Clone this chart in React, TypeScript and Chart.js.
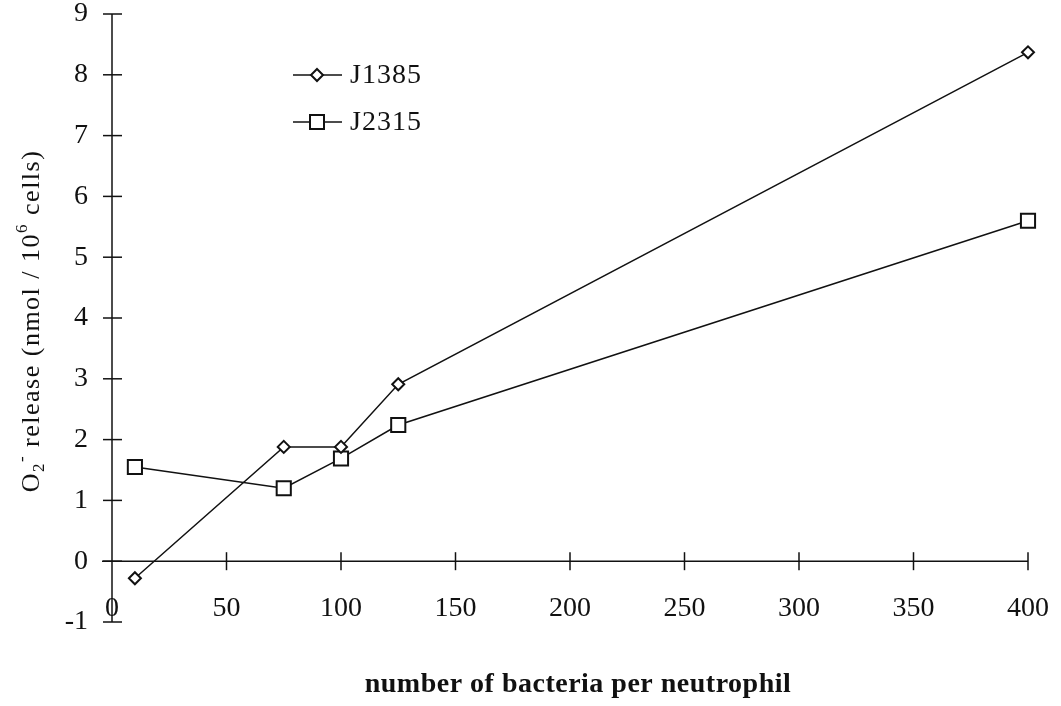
import React, { useEffect, useRef } from "react";
import { Chart, registerables } from "chart.js";

Chart.register(...registerables);

const bacteriaPerNeutrophil = [10, 75, 100, 125, 400];
const j1385 = [-0.28, 1.88, 1.88, 2.91, 8.37];
const j2315 = [1.55, 1.2, 1.69, 2.24, 5.6];
const seriesLabels = ["J1385", "J2315"];
const xTitle = "number of bacteria per neutrophil";

const FONT = "'Liberation Serif', 'Times New Roman', serif";

const axesPlugin = {
  id: "customAxes",
  afterDraw(chart: any) {
    const ctx = chart.ctx;
    const xs = chart.scales.x;
    const ys = chart.scales.y;
    const x0 = xs.getPixelForValue(0);
    const y0 = ys.getPixelForValue(0);
    ctx.save();
    ctx.strokeStyle = "#111";
    ctx.lineWidth = 1.5;
    ctx.beginPath();
    ctx.moveTo(x0, ys.getPixelForValue(9));
    ctx.lineTo(x0, ys.getPixelForValue(-1));
    ctx.stroke();
    for (let v = -1; v <= 9; v++) {
      const py = ys.getPixelForValue(v);
      ctx.beginPath();
      ctx.moveTo(x0 - 9, py);
      ctx.lineTo(x0 + 10, py);
      ctx.stroke();
    }
    ctx.beginPath();
    ctx.moveTo(x0 - 10, y0);
    ctx.lineTo(xs.getPixelForValue(400), y0);
    ctx.stroke();
    for (let v = 50; v <= 400; v += 50) {
      const px = xs.getPixelForValue(v);
      ctx.beginPath();
      ctx.moveTo(px, y0 - 9);
      ctx.lineTo(px, y0 + 9);
      ctx.stroke();
    }
    ctx.restore();

    // y title with sub/superscripts
    ctx.save();
    const big = 26;
    const small = 17;
    const parts: [string, number, number][] = [
      ["O", big, 0],
      ["2", small, 5],
      ["-", small, -12],
      [" release (nmol / 10", big, 0],
      ["6", small, -12],
      [" cells)", big, 0],
    ];
    (ctx as any).letterSpacing = "1.5px";
    let total = 0;
    for (const [t, s] of parts) {
      ctx.font = `${s}px ${FONT}`;
      total += ctx.measureText(t).width;
    }
    ctx.translate(39, 321);
    ctx.rotate(-Math.PI / 2);
    ctx.fillStyle = "#111";
    ctx.textBaseline = "alphabetic";
    ctx.textAlign = "left";
    let cx = -total / 2;
    for (const [t, s, dy] of parts) {
      ctx.font = `${s}px ${FONT}`;
      ctx.fillText(t, cx, dy);
      cx += ctx.measureText(t).width;
    }
    ctx.restore();

    // x title
    ctx.save();
    (ctx as any).letterSpacing = "0.5px";
    ctx.font = `bold 28px ${FONT}`;
    ctx.fillStyle = "#111";
    ctx.textAlign = "center";
    ctx.textBaseline = "alphabetic";
    ctx.fillText(xTitle, 578, 692);
    ctx.restore();

    // legend
    ctx.save();
    chart.data.datasets.forEach((ds: any, i: number) => {
      const ly = 75 + i * 47;
      ctx.strokeStyle = "#111";
      ctx.lineWidth = 1.5;
      ctx.beginPath();
      ctx.moveTo(293, ly);
      ctx.lineTo(342, ly);
      ctx.stroke();
      ctx.fillStyle = "#fff";
      ctx.lineWidth = 2;
      ctx.beginPath();
      if (ds.pointStyle === "rectRot") {
        ctx.moveTo(317, ly - 6);
        ctx.lineTo(323, ly);
        ctx.lineTo(317, ly + 6);
        ctx.lineTo(311, ly);
        ctx.closePath();
      } else {
        ctx.rect(317 - 7, ly - 7, 14, 14);
      }
      ctx.fill();
      ctx.stroke();
      ctx.fillStyle = "#111";
      (ctx as any).letterSpacing = "1px";
      ctx.font = `28px ${FONT}`;
      ctx.textAlign = "left";
      ctx.textBaseline = "middle";
      ctx.fillText(ds.label, 350, ly + 1);
    });
    ctx.restore();
  },
};

export default function App() {
  const ref = useRef<HTMLCanvasElement>(null);
  useEffect(() => {
    if (!ref.current) return;
    const chart = new Chart(ref.current, {
      type: "line",
      data: {
        datasets: [
          {
            label: seriesLabels[0],
            data: bacteriaPerNeutrophil.map((x, i) => ({ x, y: j1385[i] })),
            borderColor: "#111",
            borderWidth: 1.5,
            pointStyle: "rectRot",
            pointRadius: 6,
            pointBorderWidth: 2,
            pointBackgroundColor: "#fff",
            pointBorderColor: "#111",
            tension: 0,
            clip: false as any,
          },
          {
            label: seriesLabels[1],
            data: bacteriaPerNeutrophil.map((x, i) => ({ x, y: j2315[i] })),
            borderColor: "#111",
            borderWidth: 1.5,
            pointStyle: "rect",
            pointRadius: 10,
            pointBorderWidth: 2,
            pointBackgroundColor: "#fff",
            pointBorderColor: "#111",
            tension: 0,
            clip: false as any,
          },
        ],
      },
      options: {
        responsive: false,
        animation: false,
        layout: { padding: { top: 14, right: 33, bottom: 84, left: 0 } },
        plugins: { legend: { display: false }, tooltip: { enabled: false } },
        scales: {
          x: {
            type: "linear",
            min: 0,
            max: 400,
            position: { y: 0 } as any,
            grid: { display: false, drawTicks: false },
            border: { display: false },
            ticks: {
              stepSize: 50,
              font: { family: FONT, size: 28, lineHeight: 1 },
              color: "#111",
              padding: 33,
              maxRotation: 0,
            },
            afterFit: (s: any) => {
              s.paddingLeft = 0;
              s.paddingRight = 0;
              s.paddingTop = 0;
              s.paddingBottom = 0;
            },
          },
          y: {
            type: "linear",
            min: -1,
            max: 9,
            grid: { display: false, drawTicks: false },
            border: { display: false },
            ticks: {
              stepSize: 1,
              font: { family: FONT, size: 28, lineHeight: 1 },
              color: "#111",
              padding: 24,
            },
            afterFit: (s: any) => {
              s.width = 112;
              s.paddingTop = 0;
              s.paddingBottom = 0;
              s.paddingLeft = 0;
              s.paddingRight = 0;
            },
          },
        },
      },
      plugins: [axesPlugin],
    });
    return () => chart.destroy();
  }, []);
  return (
    <div style={{ position: "fixed", left: 0, top: 0, width: 1061, height: 706, background: "#fff" }}>
      <canvas ref={ref} width={1061} height={706} style={{ display: "block" }} />
    </div>
  );
}
